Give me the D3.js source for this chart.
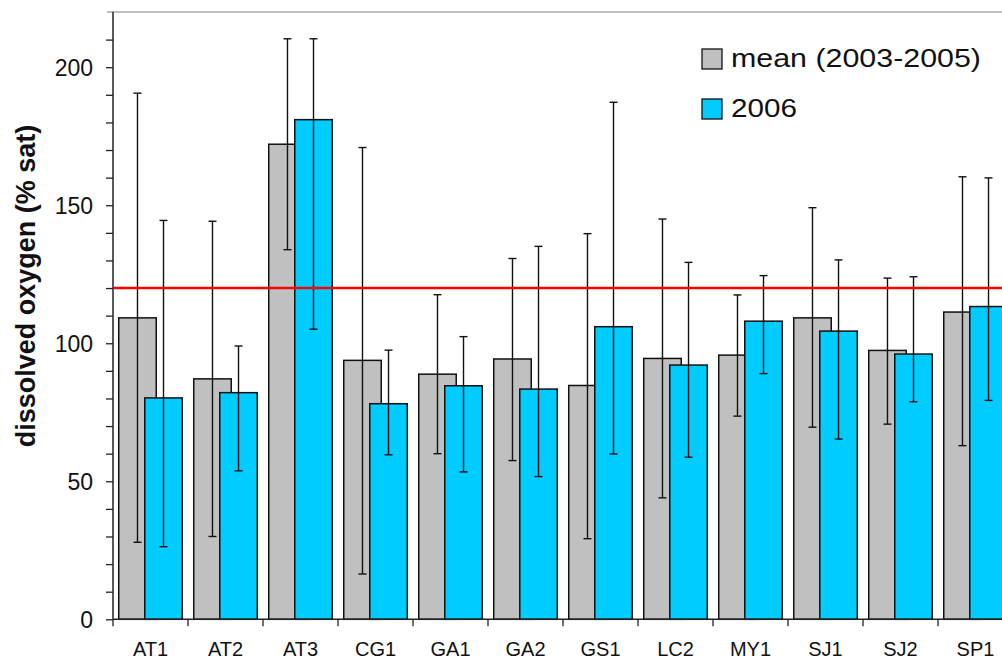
<!DOCTYPE html>
<html>
<head>
<meta charset="utf-8">
<script src="https://cdn.jsdelivr.net/npm/d3@7"></script>
<style>
  body { margin: 0; background: #fff; }
  svg { display: block; font-family: Arial, "Liberation Sans", sans-serif; }
</style>
</head>
<body>
<div id="d3-target"></div>
<script>
const sites = ['AT1', 'AT2', 'AT3', 'CG1', 'GA1', 'GA2', 'GS1', 'LC2', 'MY1', 'SJ1', 'SJ2', 'SP1'];

const meanVals = [109.2, 87.1, 172.1, 93.8, 88.8, 94.3, 84.7, 94.5, 95.7, 109.2, 97.4, 111.3];
const meanHi = [190.6, 144.2, 210.3, 170.9, 117.6, 130.7, 139.7, 145.0, 117.5, 149.1, 123.6, 160.3];
const meanLo = [27.9, 30.0, 133.9, 16.4, 60.0, 57.5, 29.2, 44.0, 73.6, 69.6, 70.7, 62.9];

const vals2006 = [80.2, 82.1, 181.0, 78.1, 84.6, 83.4, 106.0, 92.1, 108.0, 104.4, 96.1, 113.3];
const hi2006 = [144.5, 99.0, 210.3, 97.5, 102.4, 135.1, 187.3, 129.3, 124.5, 130.2, 124.1, 159.9];
const lo2006 = [26.3, 53.8, 105.1, 59.6, 53.4, 51.7, 59.9, 58.7, 89.0, 65.3, 78.8, 79.3];

const threshold = 120;
const yMajor = [0, 50, 100, 150, 200];
const legendLabels = ['mean (2003-2005)', '2006'];
const colors = ['#c0c0c0', '#00ccff'];

const width = 1002, height = 661;
const margin = {top: 12, left: 113, bottom: 42};
const baseY = 619.3;

const x0 = d3.scaleBand()
  .domain(sites)
  .range([margin.left, margin.left + 75 * sites.length]);

const y = d3.scaleLinear()
  .domain([0, 220])
  .range([baseY, margin.top]);

const bw = x0.bandwidth();
const barW = bw * 0.5;
const shift = bw * 0.347;
const inset = (bw - barW - shift) / 2;

const series = [
  {key: 'mean', vals: meanVals, hi: meanHi, lo: meanLo, off: inset},
  {key: '2006', vals: vals2006, hi: hi2006, lo: lo2006, off: inset + shift}
];

const svg = d3.select('#d3-target')
  .append('svg')
  .attr('width', width)
  .attr('height', height);

// plot top border
svg.append('line')
  .attr('x1', margin.left - 6).attr('x2', width)
  .attr('y1', y(220)).attr('y2', y(220))
  .attr('stroke', '#808080')
  .attr('stroke-width', 1);

// bars
series.forEach((s, si) => {
  svg.append('g')
    .selectAll('rect')
    .data(sites)
    .enter().append('rect')
      .attr('x', d => x0(d) + s.off)
      .attr('y', (d, i) => y(s.vals[i]))
      .attr('width', barW)
      .attr('height', (d, i) => y(0) - y(s.vals[i]))
      .attr('fill', colors[si])
      .attr('stroke', '#111')
      .attr('stroke-width', 1.5);
});

// error bars
series.forEach(s => {
  const g = svg.append('g')
    .attr('stroke', '#111')
    .attr('stroke-width', 1.4);
  sites.forEach((d, i) => {
    const cx = x0(d) + s.off + barW / 2;
    g.append('line')
      .attr('x1', cx).attr('x2', cx)
      .attr('y1', y(s.hi[i])).attr('y2', y(s.lo[i]));
    [s.hi[i], s.lo[i]].forEach(v => {
      g.append('line')
        .attr('x1', cx - 4).attr('x2', cx + 4)
        .attr('y1', y(v)).attr('y2', y(v));
    });
  });
});

// y axis
const yAxis = d3.axisLeft(y)
  .tickValues(d3.range(0, 220, 10))
  .tickSize(7)
  .tickFormat(d => yMajor.includes(d) ? d : '');

svg.append('g')
  .attr('class', 'y axis')
  .attr('transform', `translate(${margin.left},0)`)
  .call(yAxis)
  .call(g => g.select('.domain').attr('stroke', '#222').attr('stroke-width', 1.5).attr('d', `M-0,${y(0)}V${y(220)}`))
  .call(g => g.selectAll('.tick line').attr('stroke', '#222').attr('stroke-width', 1.3))
  .call(g => g.selectAll('.tick text')
    .attr('x', -20)
    .attr('dy', '0.36em')
    .attr('font-size', 23)
    .attr('font-family', 'Arial, "Liberation Sans", sans-serif')
    .attr('fill', '#111'));

// x axis: ticks at category boundaries
svg.append('line')
  .attr('x1', margin.left).attr('x2', width)
  .attr('y1', y(0)).attr('y2', y(0))
  .attr('stroke', '#222').attr('stroke-width', 1.5);

svg.append('g')
  .selectAll('line')
  .data(sites.concat(['end']))
  .enter().append('line')
    .attr('x1', (d, i) => margin.left + i * bw)
    .attr('x2', (d, i) => margin.left + i * bw)
    .attr('y1', y(0)).attr('y2', y(0) + 7)
    .attr('stroke', '#222').attr('stroke-width', 1.3);

svg.append('g')
  .selectAll('text')
  .data(sites)
  .enter().append('text')
    .attr('x', d => x0(d) + bw / 2)
    .attr('y', 656)
    .attr('text-anchor', 'middle')
    .attr('font-size', 20)
    .attr('fill', '#111')
    .text(d => d);

// y label
svg.append('text')
  .attr('transform', `translate(35, 286) rotate(-90)`)
  .attr('text-anchor', 'middle')
  .attr('font-size', 27)
  .attr('font-weight', 'bold')
  .attr('fill', '#111')
  .text('dissolved oxygen (% sat)');

// threshold line
svg.append('line')
  .attr('x1', margin.left).attr('x2', width)
  .attr('y1', y(threshold)).attr('y2', y(threshold))
  .attr('stroke', '#ff0000')
  .attr('stroke-width', 2.5);

// legend
const legend = svg.append('g')
  .attr('class', 'legend');

legend.selectAll('rect')
  .data(legendLabels)
  .enter().append('rect')
    .attr('x', 702)
    .attr('y', (d, i) => 49 + i * 50)
    .attr('width', 20)
    .attr('height', 20)
    .attr('fill', (d, i) => colors[i])
    .attr('stroke', '#111')
    .attr('stroke-width', 1.3);

legend.selectAll('text')
  .data(legendLabels)
  .enter().append('text')
    .attr('x', 731)
    .attr('y', (d, i) => 67 + i * 50)
    .attr('font-size', 26)
    .attr('fill', '#111')
    .attr('textLength', (d, i) => i === 0 ? 250 : 66)
    .attr('lengthAdjust', 'spacingAndGlyphs')
    .text(d => d);
</script>
</body>
</html>
